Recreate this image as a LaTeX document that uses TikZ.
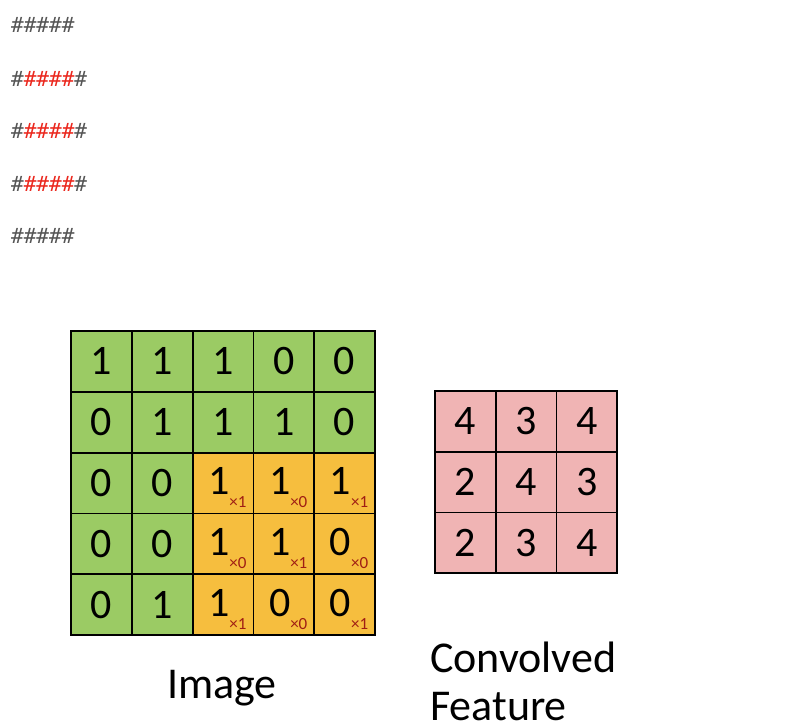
\documentclass[tikz,border=0pt]{standalone}
\usepackage{fontspec}
\setmainfont{Carlito}
\newfontfamily\hashfont{DejaVu Sans Mono}
\definecolor{gr}{RGB}{155,203,100}
\definecolor{og}{RGB}{246,190,62}
\definecolor{pk}{RGB}{240,180,180}
\definecolor{hg}{RGB}{85,85,85}
\definecolor{hr}{RGB}{235,40,30}
\definecolor{sub}{RGB}{160,30,20}
\begin{document}
\begin{tikzpicture}[x=1pt,y=-1pt,
  cell/.style={draw=black,line width=1.8pt,minimum size=60.8pt,inner sep=0,font=\fontsize{42}{42}\selectfont},
  hash/.style={anchor=west,inner sep=0,font=\hashfont\fontsize{21}{21}\selectfont,text=hg},
  lab/.style={anchor=west,inner sep=0,font=\fontsize{44}{44}\selectfont},
  dig/.style={inner sep=0,font=\fontsize{42}{42}\selectfont},
  sb/.style={inner sep=0,font=\fontsize{17}{17}\selectfont,text=sub}]
\useasboundingbox[fill=white] (0,0) rectangle (796,728);
\node[hash] (h1) at (11,25) {\#\#\#\#\#};
\node[hash] (h2) at (11,79) {\#\textcolor{hr}{\#\#\#\#}\#};
\node[hash] (h3) at (11,131) {\#\textcolor{hr}{\#\#\#\#}\#};
\node[hash] (h4) at (11,184) {\#\textcolor{hr}{\#\#\#\#}\#};
\node[hash] (h5) at (11,236) {\#\#\#\#\#};
% green cells
\foreach \r/\c/\v in {0/0/1,0/1/1,0/2/1,0/3/0,0/4/0,1/0/0,1/1/1,1/2/1,1/3/1,1/4/0,2/0/0,2/1/0,3/0/0,3/1/0,4/0/0,4/1/1}{
  \node[cell,fill=gr] (i\r\c) at ({101.4+60.8*\c},{361.4+60.8*\r}) {\v};
}
% orange cells
\foreach \r/\c/\v/\k in {2/2/1/1,2/3/1/0,2/4/1/1,3/2/1/0,3/3/1/1,3/4/0/0,4/2/1/1,4/3/0/0,4/4/0/1}{
  \node[cell,fill=og] (i\r\c) at ({101.4+60.8*\c},{361.4+60.8*\r}) {};
  \node[dig] (t\r\c) at ({97.4+60.8*\c},{359.4+60.8*\r}) {\v};
  \node[sb] (s\r\c) at ({116.4+60.8*\c},{380.4+60.8*\r}) {\texttimes\k};
}
\foreach \r/\c/\v in {0/0/4,0/1/3,0/2/4,1/0/2,1/1/4,1/2/3,2/0/2,2/1/3,2/2/4}{
  \node[cell,fill=pk] (f\r\c) at ({465.3+60.8*\c},{421.3+60.8*\r}) {\v};
}
\node[lab,anchor=center] (image) at (222,688) {Image};
\node[lab] (conv) at (430,657) {Convolved};
\node[lab] (feat) at (430,707) {Feature};
\end{tikzpicture}
\end{document}
